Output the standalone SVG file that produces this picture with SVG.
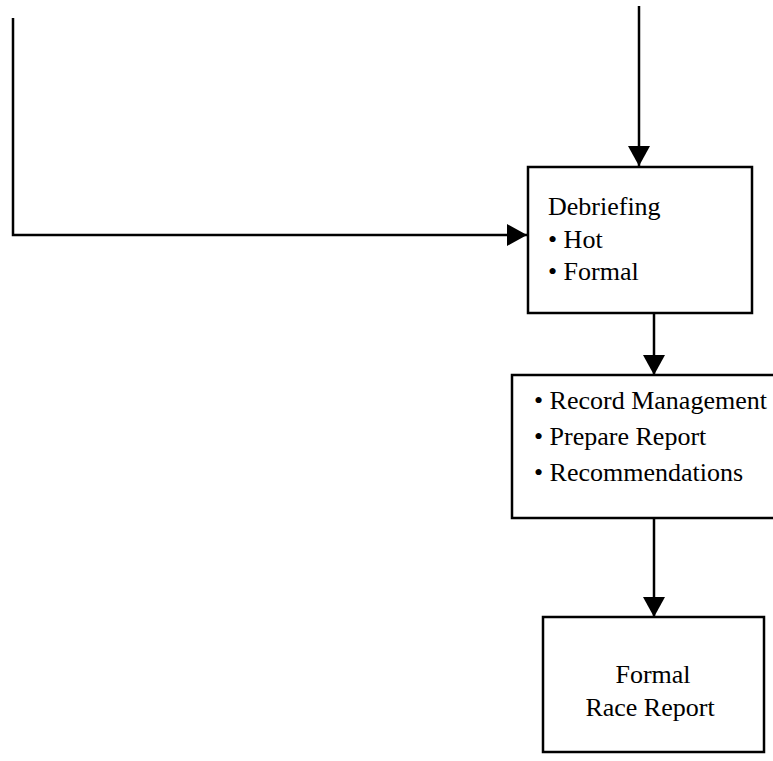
<svg xmlns="http://www.w3.org/2000/svg" width="773" height="761" viewBox="0 0 773 761">
  <style>
    .box { fill: #fff; stroke: #000; stroke-width: 2.5; }
    .wire { fill: none; stroke: #000; stroke-width: 2.5; }
    .lbl { font-family: "Liberation Serif", "Times New Roman", serif; font-size: 26px; fill: #000; }
  </style>
  <defs>
    <marker id="head" viewBox="0 0 20 22" refX="20" refY="11" markerWidth="20" markerHeight="22" markerUnits="userSpaceOnUse" orient="auto">
      <path d="M0,0 L20,11 L0,22 Z" fill="#000"/>
    </marker>
  </defs>
  <rect width="773" height="761" fill="#fff"/>

  <!-- connectors -->
  <g id="connectors">
    <path class="wire" d="M13,18 V235 H527" marker-end="url(#head)"/>
    <path class="wire" d="M639,6 V166" marker-end="url(#head)"/>
    <path class="wire" d="M654,313 V375" marker-end="url(#head)"/>
    <path class="wire" d="M654,518 V617" marker-end="url(#head)"/>
  </g>

  <g id="debriefing">
    <rect class="box" x="528" y="167" width="224" height="146"/>
    <text class="lbl" x="548" y="215">Debriefing</text>
    <text class="lbl" x="548" y="248">• Hot</text>
    <text class="lbl" x="548" y="280">• Formal</text>
  </g>

  <g id="reporting">
    <rect class="box" x="512" y="375" width="280" height="143"/>
    <text class="lbl" x="534" y="409">• Record Management</text>
    <text class="lbl" x="534" y="445">• Prepare Report</text>
    <text class="lbl" x="534" y="481">• Recommendations</text>
  </g>

  <g id="race-report">
    <rect class="box" x="543" y="617" width="221" height="135"/>
    <text class="lbl" x="653" y="683" text-anchor="middle">Formal</text>
    <text class="lbl" x="650" y="716" text-anchor="middle">Race Report</text>
  </g>
</svg>
